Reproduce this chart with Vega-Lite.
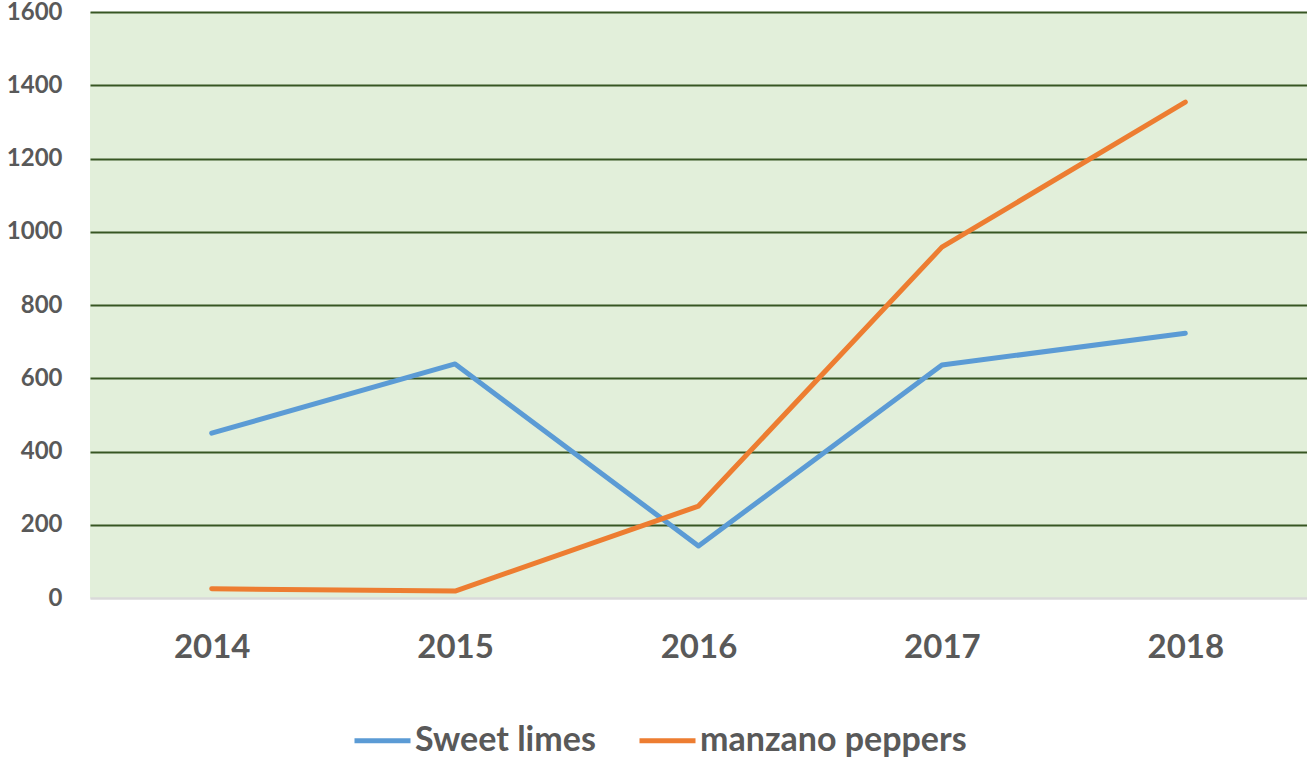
{
  "$schema": "https://vega.github.io/schema/vega-lite/v6.json",
  "width": 1217,
  "height": 586,
  "autosize": {"type": "none"},
  "padding": {"left": 90, "top": 12, "right": 0, "bottom": 160},
  "background": "white",
  "config": {
    "view": {"fill": "#E2EFDA", "stroke": null},
    "font": "Lato"
  },
  "data": {
    "values": [
      {"year": "2014", "series": "Sweet limes", "value": 450},
      {"year": "2015", "series": "Sweet limes", "value": 639},
      {"year": "2016", "series": "Sweet limes", "value": 142},
      {"year": "2017", "series": "Sweet limes", "value": 636},
      {"year": "2018", "series": "Sweet limes", "value": 723},
      {"year": "2014", "series": "manzano peppers", "value": 25},
      {"year": "2015", "series": "manzano peppers", "value": 19},
      {"year": "2016", "series": "manzano peppers", "value": 251},
      {"year": "2017", "series": "manzano peppers", "value": 958},
      {"year": "2018", "series": "manzano peppers", "value": 1354}
    ]
  },
  "mark": {"type": "line", "strokeWidth": 5, "strokeCap": "round", "strokeJoin": "round"},
  "encoding": {
    "x": {
      "field": "year", "type": "ordinal",
      "scale": {"type": "point", "padding": 0.5},
      "axis": {
        "title": null, "labelAngle": 0, "ticks": false, "domain": true,
        "domainColor": "#D9D9D9", "domainWidth": 2,
        "labelFont": "Lato", "labelFontWeight": "bold", "labelFontSize": 33,
        "labelColor": "#595959", "labelPadding": 33, "grid": false
      }
    },
    "y": {
      "field": "value", "type": "quantitative",
      "scale": {"domain": [0, 1600], "nice": false},
      "axis": {
        "title": null, "values": [0, 200, 400, 600, 800, 1000, 1200, 1400, 1600],
        "format": "d",
        "ticks": false, "domain": false,
        "labelFont": "Lato", "labelFontWeight": "bold", "labelFontSize": 24,
        "labelColor": "#595959", "labelPadding": 28,
        "grid": true,
        "gridColor": {"condition": {"test": "datum.value === 0", "value": "#D9D9D9"}, "value": "#375623"},
        "gridWidth": 2, "gridOpacity": 1
      }
    },
    "color": {
      "field": "series", "type": "nominal",
      "scale": {"domain": ["Sweet limes", "manzano peppers"], "range": ["#5B9BD5", "#ED7D31"]},
      "legend": {
        "title": null, "orient": "none", "direction": "horizontal",
        "legendX": 262, "legendY": 698,
        "symbolType": "stroke", "symbolSize": 3136, "symbolStrokeWidth": 5,
        "labelFont": "Lato", "labelFontWeight": "bold", "labelFontSize": 34,
        "labelColor": "#595959", "labelOffset": 2, "columnPadding": 33,
        "labelLimit": 400
      }
    }
  }
}
